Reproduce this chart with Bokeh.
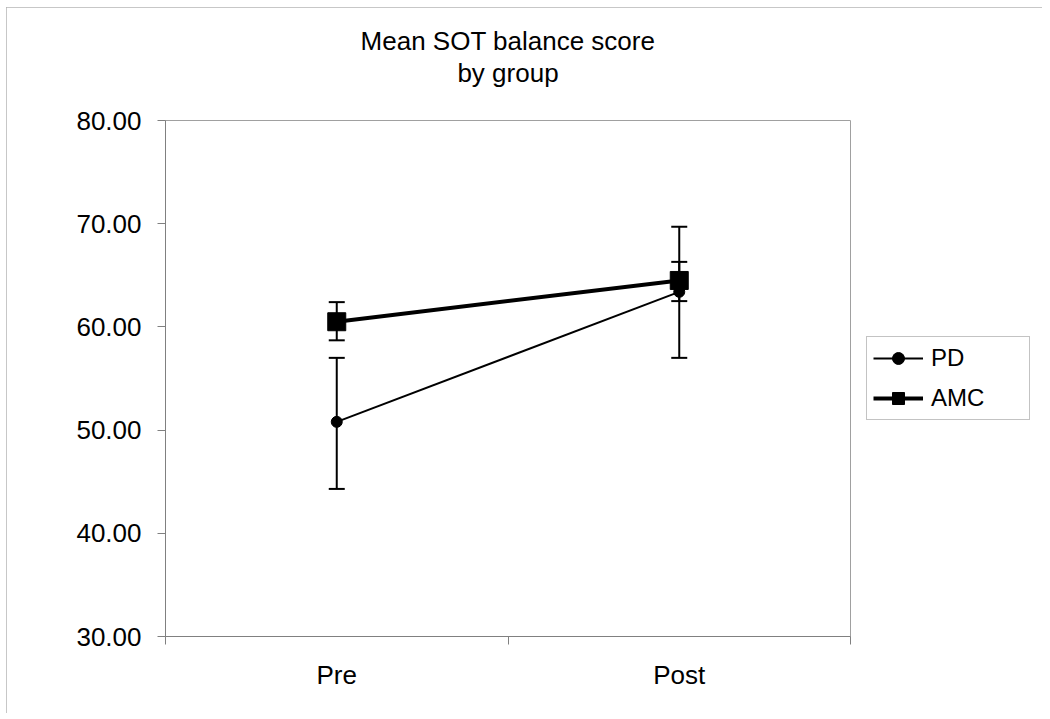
from bokeh.plotting import figure
from bokeh.models import (Range1d, FixedTicker, Legend, LegendItem, Whisker,
                          ColumnDataSource, Title, PrintfTickFormatter, TeeHead)
from bokeh.embed import file_html
from bokeh.resources import INLINE

# ---- data ----
categories = ["Pre", "Post"]
pd_mean = [50.8, 63.4]
pd_lower = [44.3, 57.0]
pd_upper = [57.0, 69.7]
amc_mean = [60.5, 64.5]
amc_lower = [58.7, 62.5]
amc_upper = [62.4, 66.3]
y_ticks = [30, 40, 50, 60, 70, 80]
title_lines = ["Mean SOT balance score", "by group"]

FONT = "Liberation Sans"
xs = [i + 0.5 for i in range(len(categories))]

p = figure(frame_width=685, frame_height=516, output_backend="svg", toolbar_location=None,
           x_range=Range1d(0, len(categories)), y_range=Range1d(y_ticks[0], y_ticks[-1]),
           min_border_left=159, min_border_top=113, min_border_right=192,
           min_border_bottom=77, title=None)
p.styles = {"margin-left": "6px", "margin-top": "7px",
            "max-width": "1036px", "max-height": "706px", "overflow": "hidden",
            "outline": "2px solid #b4b4b4", "outline-offset": "-2px"}
p.xgrid.visible = False
p.ygrid.visible = False
p.outline_line_color = "#a0a0a0"
p.outline_line_width = 1

# y axis
ya = p.yaxis[0]
ya.ticker = FixedTicker(ticks=y_ticks, minor_ticks=[])
ya.formatter = PrintfTickFormatter(format="%.2f")
ya.major_label_text_font = FONT
ya.major_label_text_font_size = "26px"
ya.major_label_text_color = "black"
ya.major_tick_out = 8
ya.major_tick_in = 0
ya.minor_tick_out = 0
ya.minor_tick_in = 0
ya.axis_line_color = "#808080"
ya.major_tick_line_color = "#808080"
ya.major_label_standoff = 16

# x axis
xa = p.xaxis[0]
xa.ticker = FixedTicker(ticks=xs, minor_ticks=list(range(len(categories) + 1)))
xa.major_label_overrides = {x: c for x, c in zip(xs, categories)}
xa.major_label_text_font = FONT
xa.major_label_text_font_size = "26px"
xa.major_label_text_color = "black"
xa.major_tick_out = 0
xa.major_tick_in = 0
xa.minor_tick_out = 8
xa.minor_tick_in = 0
xa.minor_tick_line_color = "#808080"
xa.axis_line_color = "#808080"
xa.major_label_standoff = 15

# error bars
src_pd = ColumnDataSource(dict(x=xs, y=pd_mean, lo=pd_lower, hi=pd_upper))
src_amc = ColumnDataSource(dict(x=xs, y=amc_mean, lo=amc_lower, hi=amc_upper))
for src in (src_pd, src_amc):
    p.add_layout(Whisker(source=src, base="x", upper="hi", lower="lo",
                         line_color="black", line_width=2,
                         upper_head=TeeHead(size=16, line_width=2, line_color="black"),
                         lower_head=TeeHead(size=16, line_width=2, line_color="black")))

# series
l_pd = p.line("x", "y", source=src_pd, line_color="black", line_width=2)
s_pd = p.scatter("x", "y", source=src_pd, marker="circle", size=11,
                 fill_color="black", line_color="black")
l_amc = p.line("x", "y", source=src_amc, line_color="black", line_width=4)
s_amc = p.scatter("x", "y", source=src_amc, marker="square", size=18,
                  fill_color="black", line_color="black")

legend = Legend(items=[LegendItem(label="PD", renderers=[l_pd, s_pd]),
                       LegendItem(label="AMC", renderers=[l_amc, s_amc])],
                location="center_left", margin=16, padding=6, spacing=10,
                glyph_width=50, glyph_height=30, label_height=30, label_width=92,
                label_standoff=8, label_text_font=FONT, label_text_font_size="24px",
                label_text_color="black",
                border_line_color="#888888", border_line_width=1,
                background_fill_color="white", background_fill_alpha=1)
p.add_layout(legend, "right")

# title: spacer nearest the frame, then the two lines
p.add_layout(Title(text=" ", text_font_size="1px", standoff=30), "above")
p.add_layout(Title(text=title_lines[1], align="center", text_font=FONT,
                   text_font_size="26px", text_font_style="normal",
                   text_color="black", standoff=0), "above")
p.add_layout(Title(text=title_lines[0], align="center", text_font=FONT,
                   text_font_size="26px", text_font_style="normal",
                   text_color="black", standoff=0), "above")

open("out.html", "w").write(file_html(p, INLINE))
